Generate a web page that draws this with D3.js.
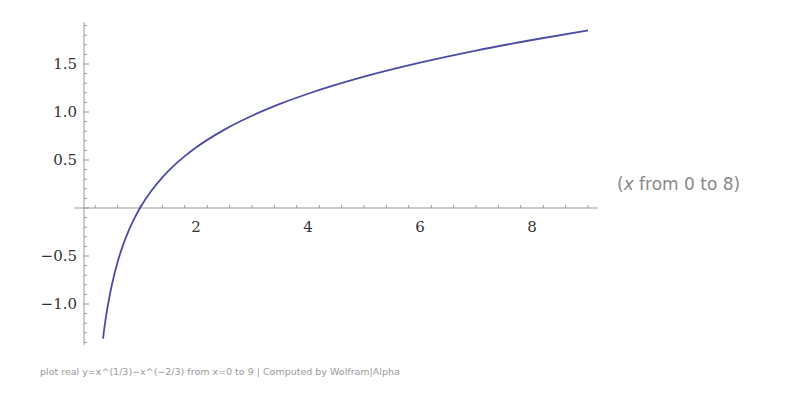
<!DOCTYPE html><html><head><meta charset="utf-8"><script src="https://cdn.jsdelivr.net/npm/d3@7"></script>
<style>body{margin:0;background:#fff}</style></head><body><svg id="c" width="800" height="405"></svg><script>
const xs=[0.34,0.36,0.4,0.45,0.5,0.6,0.7,0.8,0.9,1.0,1.2,1.4,1.6,1.8,2.0,2.5,3,3.5,4,5,6,7,8,9];
const ys=[-1.36,-1.265,-1.105,-0.938,-0.794,-0.563,-0.381,-0.232,-0.108,0,0.177,0.320,0.439,0.540,0.630,0.814,0.961,1.084,1.190,1.368,1.514,1.640,1.75,1.849];
const xTicks=[2,4,6,8], yTicks=[-1.0,-0.5,0.5,1.0,1.5];
const svg=d3.select("#c");
const x=d3.scaleLinear().domain([0,9]).range([84,588]);
const y=d3.scaleLinear().domain([0,1.5]).range([208,64]);
const g=svg.append("g");
// axes lines
g.append("line").attr("x1",74).attr("x2",598).attr("y1",y(0)).attr("y2",y(0)).attr("stroke","#999");
g.append("line").attr("x1",x(0)).attr("x2",x(0)).attr("y1",22).attr("y2",345).attr("stroke","#999");
// x ticks
d3.range(-0.2,9.2,0.4).forEach(v=>{ if(v<-0.01)return; const maj=xTicks.some(t=>Math.abs(t-v)<1e-6);
 g.append("line").attr("x1",x(v)).attr("x2",x(v)).attr("y1",y(0)).attr("y2",y(0)-(maj?5:3)).attr("stroke","#999");});
d3.range(-14,20).forEach(i=>{const v=i/10; if(y(v)<22||y(v)>345)return; const maj=i%5==0;
 g.append("line").attr("x1",x(0)).attr("x2",x(0)+(maj?5:3)).attr("y1",y(v)).attr("y2",y(v)).attr("stroke","#999");});
xTicks.forEach(t=>g.append("text").attr("x",x(t)).attr("y",y(0)+24).attr("text-anchor","middle").attr("font-family","DejaVu Serif").attr("font-size",15).attr("fill","#333").text(t));
yTicks.forEach(t=>g.append("text").attr("x",x(0)-7).attr("y",y(t)+5).attr("text-anchor","end").attr("font-family","DejaVu Serif").attr("font-size",15).attr("fill","#333").text(t<0?"\u2212"+Math.abs(t).toFixed(1):t.toFixed(1)));
const data=xs.map((v,i)=>[v,ys[i]]);
g.append("path").attr("d",d3.line().x(d=>x(d[0])).y(d=>y(d[1])).curve(d3.curveMonotoneX)(data)).attr("fill","none").attr("stroke","#4c4ca6").attr("stroke-width",1.8);
const t=svg.append("text").attr("x",617).attr("y",190).attr("font-family","DejaVu Sans").attr("font-size",17).attr("fill","#888");
t.append("tspan").text("(");t.append("tspan").attr("font-style","italic").text("x");t.append("tspan").text(" from 0 to 8)");
svg.append("text").attr("x",40).attr("y",375).attr("font-family","DejaVu Sans").attr("font-size",9.5).attr("fill","#999").text("plot real y=x^(1/3)\u2212x^(\u22122/3) from x=0 to 9 | Computed by Wolfram|Alpha");
</script></body></html>
